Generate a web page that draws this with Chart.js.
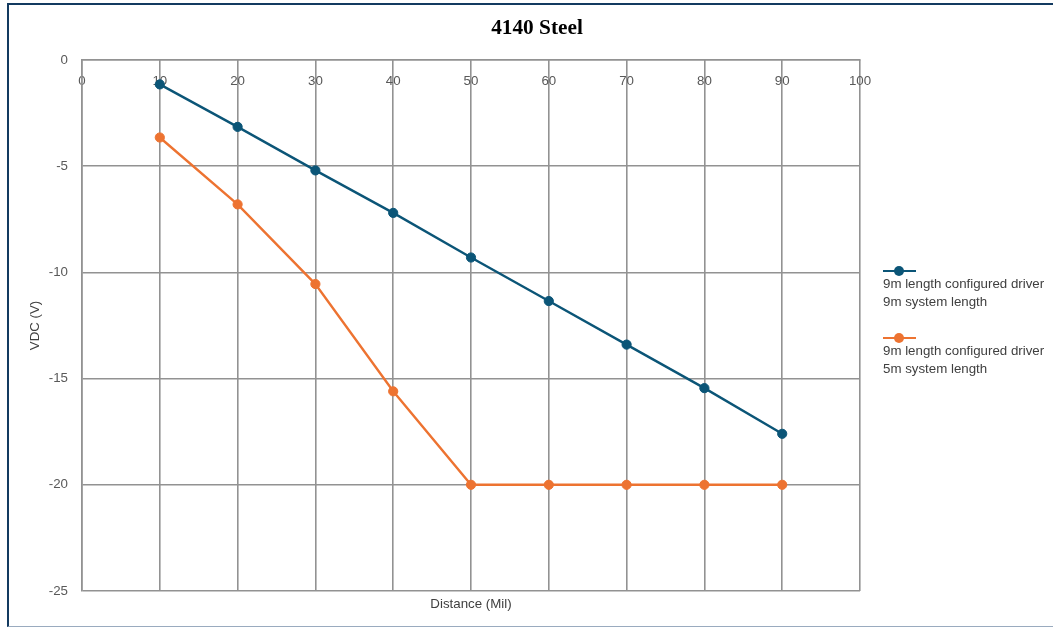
<!DOCTYPE html>
<html>
<head>
<meta charset="utf-8">
<title>4140 Steel</title>
<script src="https://cdn.jsdelivr.net/npm/chart.js@4.4.1/dist/chart.umd.min.js"></script>
<style>
    body {
        margin: 0;
        background: #ffffff;
        overflow: hidden;
    }
    .moldura {
        position: absolute;
        left: 7px;
        top: 3px;
        width: 1046px;
        height: 621px;
        border-top: 2px solid #133a60;
        border-left: 2px solid #133a60;
        border-bottom: 1px solid #9aabbf;
        pointer-events: none;
    }
    #grafico {
        position: absolute;
        left: 0;
        top: 0;
    }
    .legenda {
        position: absolute;
        left: 883px;
        top: 266px;
        font-family: "Liberation Sans", Arial, sans-serif;
        font-size: 13.3px;
        line-height: 17.6px;
        color: #404040;
    }
    .item-legenda {
        margin-bottom: 23px;
    }
    .simbolo {
        position: relative;
        width: 33px;
        height: 9px;
    }
    .simbolo .linha {
        position: absolute;
        left: 0;
        top: 4px;
        width: 33px;
        height: 2px;
    }
    .simbolo .ponto {
        position: absolute;
        left: 11px;
        top: 0;
        width: 10px;
        height: 10px;
        border-radius: 50%;
    }
</style>
</head>
<body>
<canvas id="grafico" width="1053" height="628"></canvas>
<div class="moldura"></div>
<div class="legenda" id="legenda"></div>

<script>
const distancia = [10, 20, 30, 40, 50, 60, 70, 80, 90];
const vdcSistema9m = [-1.15, -3.15, -5.2, -7.2, -9.3, -11.35, -13.4, -15.45, -17.6];
const vdcSistema5m = [-3.65, -6.8, -10.55, -15.6, -20, -20, -20, -20, -20];

const rotuloSistema9m = ['9m length configured driver', '9m system length'];
const rotuloSistema5m = ['9m length configured driver', '5m system length'];

const corAzul = '#0b5577';
const corLaranja = '#ed7331';
const corGrade = '#929292';
const fonteTexto = '"Liberation Sans", Arial, sans-serif';

function montarPontos(xs, ys) {
    return xs.map((x, i) => ({ x: x, y: ys[i] }));
}

function montarLegenda(chart) {
    const caixa = document.getElementById('legenda');
    chart.data.datasets.forEach(function(ds) {
        const item = document.createElement('div');
        item.className = 'item-legenda';

        const simbolo = document.createElement('div');
        simbolo.className = 'simbolo';
        const linha = document.createElement('div');
        linha.className = 'linha';
        linha.style.background = ds.borderColor;
        const ponto = document.createElement('div');
        ponto.className = 'ponto';
        ponto.style.background = ds.pointBackgroundColor;
        simbolo.appendChild(linha);
        simbolo.appendChild(ponto);

        const texto = document.createElement('div');
        texto.innerHTML = ds.label.join('<br>');

        item.appendChild(simbolo);
        item.appendChild(texto);
        caixa.appendChild(item);
    });
}

const ctx = document.getElementById('grafico').getContext('2d');

const grafico = new Chart(ctx, {
    type: 'line',
    data: {
        datasets: [
            {
                label: rotuloSistema9m,
                data: montarPontos(distancia, vdcSistema9m),
                borderColor: corAzul,
                backgroundColor: corAzul,
                pointBackgroundColor: corAzul,
                pointBorderColor: corAzul,
                borderWidth: 2.4,
                pointRadius: 4.6,
                pointBorderWidth: 1,
                tension: 0
            },
            {
                label: rotuloSistema5m,
                data: montarPontos(distancia, vdcSistema5m),
                borderColor: corLaranja,
                backgroundColor: corLaranja,
                pointBackgroundColor: corLaranja,
                pointBorderColor: corLaranja,
                borderWidth: 2.4,
                pointRadius: 4.6,
                pointBorderWidth: 1,
                tension: 0
            }
        ]
    },
    options: {
        responsive: false,
        animation: false,
        layout: {
            padding: { left: 21, right: 0, top: 0, bottom: 0 }
        },
        scales: {
            x: {
                type: 'linear',
                position: { y: 0 },
                min: 0,
                max: 100,
                ticks: {
                    stepSize: 10,
                    padding: 13,
                    color: '#595959',
                    font: { family: fonteTexto, size: 13.3 }
                },
                grid: {
                    color: corGrade,
                    lineWidth: 1.6,
                    drawTicks: false
                },
                border: { color: corGrade, width: 1.6 }
            },
            x2: {
                type: 'linear',
                position: 'bottom',
                min: 0,
                max: 100,
                ticks: { display: false },
                grid: { display: false },
                border: { display: false },
                title: {
                    display: true,
                    text: 'Distance (Mil)',
                    color: '#404040',
                    padding: { top: 0, bottom: 16 },
                    font: { family: fonteTexto, size: 13.3 }
                },
                afterFit: function(scale) {
                    scale.height = 37;
                }
            },
            y: {
                type: 'linear',
                position: 'left',
                min: -25,
                max: 0,
                ticks: {
                    stepSize: 5,
                    padding: 14,
                    color: '#595959',
                    font: { family: fonteTexto, size: 13.3 }
                },
                grid: {
                    color: corGrade,
                    lineWidth: 1.6,
                    drawTicks: false
                },
                border: { color: corGrade, width: 1.6 },
                title: {
                    display: true,
                    text: 'VDC (V)',
                    color: '#404040',
                    padding: { top: 6, bottom: 0 },
                    font: { family: fonteTexto, size: 13.3 }
                },
                afterFit: function(scale) {
                    scale.width = 61;
                }
            },
            y2: {
                type: 'linear',
                position: 'right',
                min: -25,
                max: 0,
                ticks: { display: false },
                grid: { display: false },
                border: { display: false },
                afterFit: function(scale) {
                    scale.width = 193;
                }
            }
        },
        plugins: {
            legend: { display: false },
            tooltip: { enabled: false },
            title: {
                display: true,
                text: '4140 Steel',
                color: '#000000',
                padding: { top: 16, bottom: 18.4 },
                font: {
                    family: '"Liberation Serif", "Times New Roman", serif',
                    size: 21.3,
                    weight: 'bold'
                }
            }
        }
    }
});

montarLegenda(grafico);
</script>
</body>
</html>
